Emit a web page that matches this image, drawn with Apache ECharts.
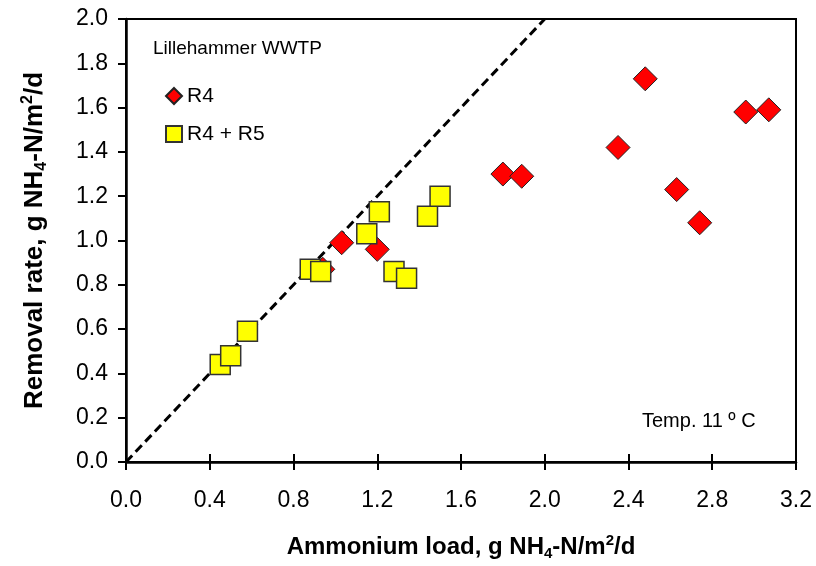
<!DOCTYPE html>
<html>
<head>
<meta charset="utf-8">
<script src="https://cdn.jsdelivr.net/npm/echarts@6/dist/echarts.min.js"></script>
<style>
  html, body { margin: 0; padding: 0; background: #fff; }
  #chart { width: 816px; height: 566px; }
</style>
</head>
<body>
<div id="chart"></div>
<script>
// R4 only
const r4Load = [0.94, 1.03, 1.20, 1.80, 1.89, 2.35, 2.48, 2.63, 2.74, 2.96, 3.07]
const r4Rate = [0.87, 0.99, 0.96, 1.30, 1.29, 1.42, 1.73, 1.23, 1.08, 1.58, 1.59]
// R4 + R5
const r45Load = [0.45, 0.50, 0.58, 0.88, 0.93, 1.15, 1.21, 1.28, 1.34, 1.44, 1.50]
const r45Rate = [0.44, 0.48, 0.59, 0.87, 0.86, 1.03, 1.13, 0.86, 0.83, 1.11, 1.20]
// 1:1 line
const lineX = [0, 2]
const lineY = [0, 2]

const font = 'Liberation Sans, Arial, sans-serif'

const chart = echarts.init(document.getElementById('chart'))

function titleRich(size) {
  const small = Math.round(size * 0.62)
  const lh = size + 4
  return {
    b: { fontSize: size, fontWeight: 'bold', fontFamily: font, color: '#000', lineHeight: lh, verticalAlign: 'middle' },
    sub: { fontSize: small, fontWeight: 'bold', fontFamily: font, color: '#000', lineHeight: lh, verticalAlign: 'bottom' },
    sup: { fontSize: small, fontWeight: 'bold', fontFamily: font, color: '#000', lineHeight: lh, verticalAlign: 'top' }
  }
}

const tickLabel = { color: '#000', fontSize: 23, fontFamily: font, formatter: v => v.toFixed(1) }

const option = {
  animation: false,
  grid: {
    left: 126, right: 20, top: 19, bottom: 99,
    show: true, borderColor: '#000', borderWidth: 2
  },
  legend: {
    orient: 'vertical',
    left: 160, top: 80,
    itemWidth: 16, itemHeight: 16, itemGap: 16,
    textStyle: { fontSize: 21, lineHeight: 22, fontFamily: font, color: '#000' },
    data: [
      { name: 'R4', icon: 'diamond' },
      { name: 'R4 + R5', icon: 'rect' }
    ]
  },
  xAxis: [
    {
      type: 'value', min: 0, max: 3.2, interval: 0.4,
      splitLine: { show: false },
      axisLine: { show: true, onZero: false, lineStyle: { color: '#000', width: 2.5 } },
      axisTick: { show: true, length: 8, lineStyle: { color: '#000', width: 2 } },
      axisLabel: Object.assign({}, tickLabel, { margin: 27 }),
      name: '{b|Ammonium load, g NH}{sub|4}{b|-N/m}{sup|2}{b|/d}',
      nameLocation: 'middle',
      nameGap: 71,
      nameTextStyle: { rich: titleRich(24) }
    },
    {
      // inner half of the crossing x ticks
      type: 'value', min: 0, max: 3.2, interval: 0.4, position: 'bottom',
      axisLine: { show: false }, splitLine: { show: false },
      axisLabel: { show: false },
      axisTick: { show: true, inside: true, length: 8, lineStyle: { color: '#000', width: 2 } }
    }
  ],
  yAxis: {
    type: 'value', min: 0, max: 2.0, interval: 0.2,
    splitLine: { show: false },
    axisLine: { show: true, onZero: false, lineStyle: { color: '#000', width: 2.5 } },
    axisTick: { show: true, length: 8, lineStyle: { color: '#000', width: 2 } },
    axisLabel: Object.assign({}, tickLabel, { margin: 18 }),
    name: '{b|Removal rate, g NH}{sub|4}{b|-N/m}{sup|2}{b|/d}',
    nameLocation: 'middle',
    nameGap: 76,
    nameTextStyle: { rich: titleRich(26) }
  },
  graphic: [
    {
      type: 'text', left: 153, top: 39,
      style: { text: 'Lillehammer WWTP', fontSize: 19, fontFamily: font, fill: '#000' }
    },
    {
      type: 'text', left: 642, top: 411,
      style: { text: 'Temp. 11 º C', fontSize: 20, fontFamily: font, fill: '#000' }
    }
  ],
  series: [
    {
      name: '1:1',
      type: 'line',
      data: lineX.map((x, i) => [x, lineY[i]]),
      showSymbol: false,
      symbol: 'none',
      lineStyle: { color: '#000', width: 3, type: [9, 5] },
      z: 1
    },
    {
      name: 'R4',
      type: 'scatter',
      symbol: 'diamond',
      symbolSize: 24,
      data: r4Load.map((x, i) => [x, r4Rate[i]]),
      itemStyle: { color: '#ff0000', borderColor: '#222', borderWidth: 1, opacity: 1 },
      z: 2
    },
    {
      name: 'R4 + R5',
      type: 'scatter',
      symbol: 'rect',
      symbolSize: 20,
      data: r45Load.map((x, i) => [x, r45Rate[i]]),
      itemStyle: { color: '#ffff00', borderColor: '#333', borderWidth: 1.5, opacity: 1 },
      z: 3
    }
  ]
}

chart.setOption(option)
</script>
</body>
</html>
